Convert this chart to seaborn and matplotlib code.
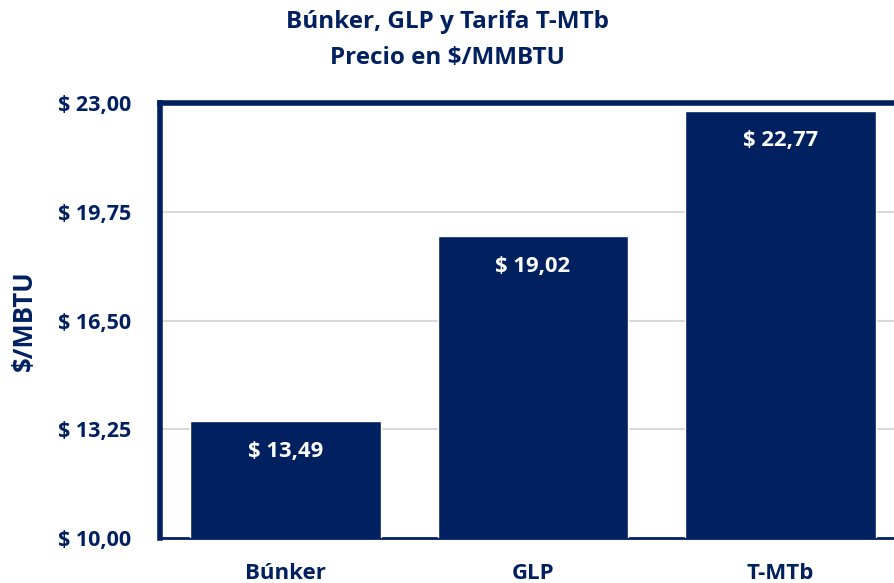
import matplotlib
matplotlib.use('Agg')
import matplotlib.pyplot as plt
import matplotlib.ticker as mticker
import seaborn as sns
import pandas as pd

categorias = ['Búnker', 'GLP', 'T-MTb']
precios = [13.49, 19.02, 22.77]
y_ticks = [10.00, 13.25, 16.50, 19.75, 23.00]

navy = '#002060'

df = pd.DataFrame({'fuente': categorias, 'precio': precios})

sns.set_style('white')
plt.rcParams['font.family'] = ['Open Sans', 'DejaVu Sans']
plt.rcParams['font.weight'] = 'bold'

fig = plt.figure(figsize=(8.94, 5.83), dpi=100)
ax = fig.add_axes([160 / 894, 45 / 583, (906 - 160) / 894, 435 / 583])

sns.barplot(data=df, x='fuente', y='precio', color=navy, width=0.77,
            saturation=1, ax=ax, zorder=3)

ax.set_ylim(10, 23)
ax.set_xlim(-0.507, 2.507)
ax.set_yticks(y_ticks)
ax.yaxis.set_major_formatter(mticker.FuncFormatter(
    lambda v, p: '$ ' + f'{v:.2f}'.replace('.', ',')))
ax.grid(axis='y', color='#d9d9d9', linewidth=1.5, zorder=0)

for s in ['left', 'top', 'right']:
    ax.spines[s].set_color(navy)
    ax.spines[s].set_linewidth(4)
ax.spines['bottom'].set_color(navy)
ax.spines['bottom'].set_linewidth(2)

ax.tick_params(axis='both', length=0, labelcolor=navy)
ax.tick_params(axis='x', pad=18, labelsize=16)
ax.tick_params(axis='y', pad=21, labelsize=15.5)
for lbl in ax.get_xticklabels() + ax.get_yticklabels():
    lbl.set_fontweight('bold')

ax.set_xlabel('')
ax.set_ylabel('$/MBTU', fontsize=18.5, fontweight='bold', color=navy)
ax.yaxis.set_label_coords(-0.164, 0.5)

for i, v in enumerate(precios):
    ax.text(i, v - 0.58, '$ ' + f'{v:.2f}'.replace('.', ','), ha='center',
            va='top', color='white', fontsize=15.8, fontweight='bold', zorder=4)

fig.suptitle('Búnker, GLP y Tarifa T-MTb\nPrecio en $/MMBTU', x=0.5, y=0.983,
             fontsize=17.5, fontweight='bold', color=navy, linespacing=1.65)

fig.savefig('out.png', dpi=100)
